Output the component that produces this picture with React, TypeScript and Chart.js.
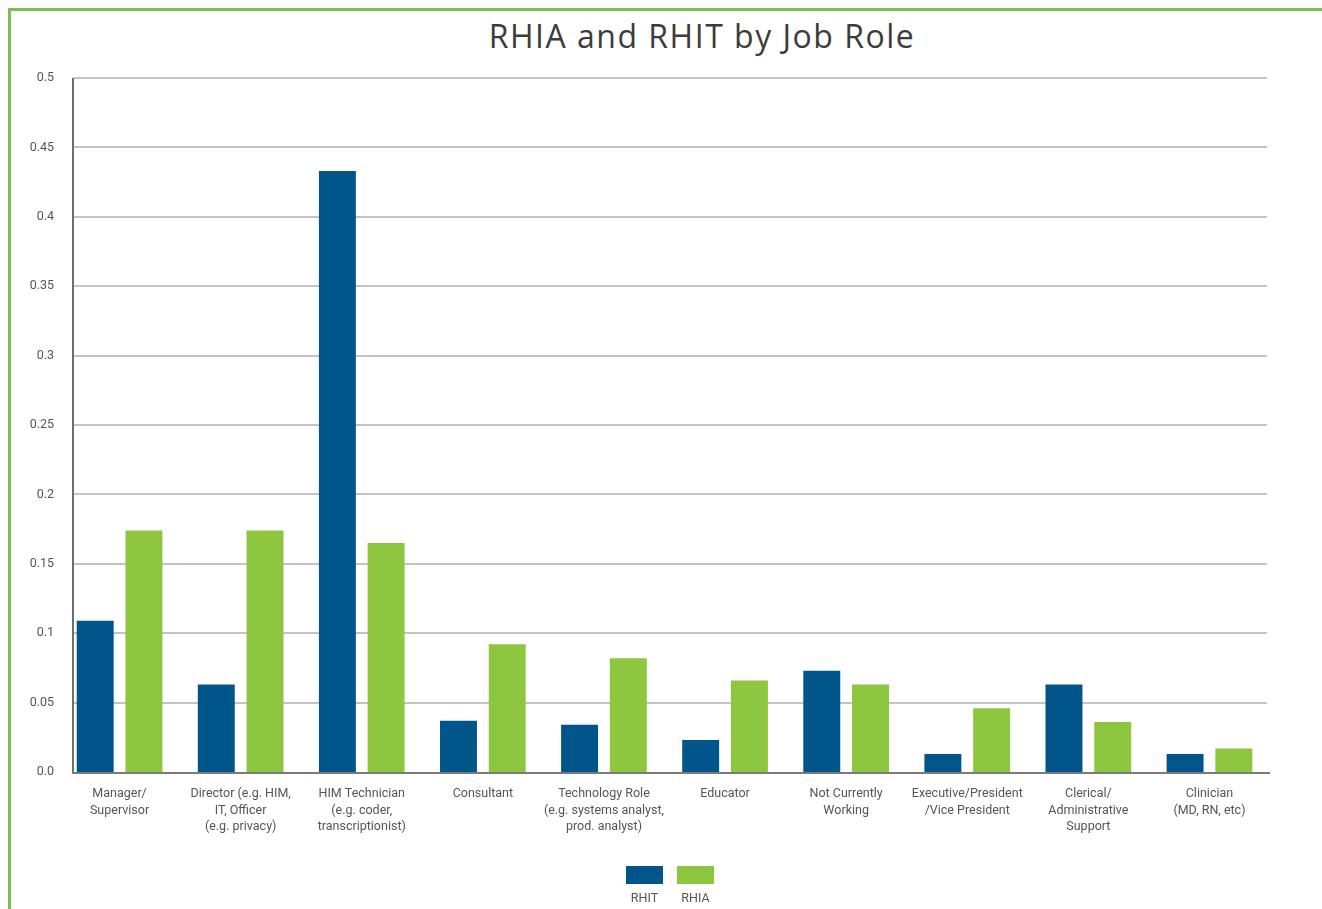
import React, { useEffect, useRef } from "react";
import { Chart, registerables } from "chart.js";

Chart.register(...registerables);

const categories: string[][] = [
  ["Manager/", "Supervisor"],
  ["Director (e.g. HIM,", "IT, Officer", "(e.g. privacy)"],
  ["HIM Technician", "(e.g. coder,", "transcriptionist)"],
  ["Consultant"],
  ["Technology Role", "(e.g. systems analyst,", "prod. analyst)"],
  ["Educator"],
  ["Not Currently", "Working"],
  ["Executive/President", "/Vice President"],
  ["Clerical/", "Administrative", "Support"],
  ["Clinician", "(MD, RN, etc)"],
];

const rhitValues: number[] = [0.109, 0.063, 0.433, 0.037, 0.034, 0.023, 0.073, 0.013, 0.063, 0.013];
const rhiaValues: number[] = [0.174, 0.174, 0.165, 0.092, 0.082, 0.066, 0.063, 0.046, 0.036, 0.017];

const yTickValues: number[] = [0, 0.05, 0.1, 0.15, 0.2, 0.25, 0.3, 0.35, 0.4, 0.45, 0.5];
const yTickLabels: string[] = ["0.0", "0.05", "0.1", "0.15", "0.2", "0.25", "0.3", "0.35", "0.4", "0.45", "0.5"];

const seriesNames = ["RHIT", "RHIA"];
const seriesColors = ["#00558a", "#8dc63f"];

const TITLE = "RHIA and RHIT by Job Role";
const FONT = "Roboto, 'Open Sans', sans-serif";

// layout constants (styling)
const GRID_LEFT = 73;
const GRID_RIGHT = 1267;

export default function App() {
  const canvasRef = useRef<HTMLCanvasElement | null>(null);

  useEffect(() => {
    const canvas = canvasRef.current;
    if (!canvas) return;

    const gridPlugin = {
      id: "customGrid",
      beforeDatasetsDraw(chart: any) {
        const ctx = chart.ctx;
        const y = chart.scales.y;
        const area = chart.chartArea;
        ctx.save();
        ctx.strokeStyle = "#c4c4c4";
        ctx.lineWidth = 2;
        yTickValues.forEach((v) => {
          if (v === 0) return;
          const py = Math.round(y.getPixelForValue(v));
          ctx.beginPath();
          ctx.moveTo(GRID_LEFT, py);
          ctx.lineTo(GRID_RIGHT, py);
          ctx.stroke();
        });
        ctx.strokeStyle = "#6e6e6e";
        ctx.beginPath();
        ctx.moveTo(GRID_LEFT, area.top);
        ctx.lineTo(GRID_LEFT, area.bottom);
        ctx.stroke();
        ctx.restore();
      },
      afterDatasetsDraw(chart: any) {
        const ctx = chart.ctx;
        const y = chart.scales.y;
        const py = Math.round(y.getPixelForValue(0)) + 1;
        ctx.save();
        ctx.strokeStyle = "#7a7a7a";
        ctx.lineWidth = 2;
        ctx.beginPath();
        ctx.moveTo(GRID_LEFT - 1, py);
        ctx.lineTo(GRID_RIGHT + 3, py);
        ctx.stroke();
        ctx.restore();
      },
    };

    const chart = new Chart(canvas, {
      type: "bar",
      data: {
        labels: categories,
        datasets: [
          {
            label: seriesNames[0],
            data: rhitValues,
            backgroundColor: seriesColors[0],
            barPercentage: 0.758,
            categoryPercentage: 0.805,
          },
          {
            label: seriesNames[1],
            data: rhiaValues,
            backgroundColor: seriesColors[1],
            barPercentage: 0.758,
            categoryPercentage: 0.805,
          },
        ],
      },
      options: {
        responsive: false,
        animation: false,
        layout: { padding: { top: 78, left: 0, right: 52, bottom: 0 } },
        plugins: {
          legend: { display: false },
          title: { display: false },
          tooltip: { enabled: false },
        },
        scales: {
          x: {
            grid: { display: false, drawTicks: false },
            border: { display: false },
            ticks: {
              autoSkip: false,
              maxRotation: 0,
              minRotation: 0,
              padding: 14,
              color: "#555555",
              font: { family: FONT, size: 12.5, lineHeight: 1.32 },
            },
            afterFit(scale: any) {
              scale.height = 137;
            },
          },
          y: {
            min: 0,
            max: 0.5,
            grid: { display: false, drawTicks: false },
            border: { display: false },
            afterBuildTicks(scale: any) {
              scale.ticks = yTickValues.map((v) => ({ value: v }));
            },
            ticks: {
              crossAlign: "near",
              padding: 5,
              color: "#555555",
              font: { family: FONT, size: 12.5 },
              callback: (_v: any, i: number) => yTickLabels[i],
            },
            afterFit(scale: any) {
              scale.width = 59;
            },
          },
        },
      },
      plugins: [gridPlugin],
    } as any);

    return () => chart.destroy();
  }, []);

  return (
    <div style={{ position: "absolute", left: 0, top: 0, width: 1322, height: 909, background: "#ffffff", overflow: "hidden" }}>
      <div
        style={{
          position: "absolute",
          left: 8,
          top: 8,
          width: 1330,
          height: 920,
          borderLeft: "3px solid #7cc04e",
          borderTop: "3px solid #7cc04e",
        }}
      />
      <div
        style={{
          position: "absolute",
          left: 0,
          top: 13,
          width: 1322,
          paddingLeft: 82,
          boxSizing: "border-box",
          textAlign: "center",
          fontFamily: "'Open Sans', sans-serif",
          fontSize: 32,
          letterSpacing: "1.5px",
          color: "#3c3c3c",
          lineHeight: "46px",
        }}
      >
        {TITLE}
      </div>
      <canvas ref={canvasRef} width={1322} height={909} style={{ position: "absolute", left: 0, top: 0 }} />
      {seriesNames.map((name, i) => (
        <div key={name} style={{ position: "absolute", left: 626 + i * 51, top: 866, width: 37 }}>
          <div style={{ width: 37, height: 18, background: seriesColors[i] }} />
          <div
            style={{
              textAlign: "center",
              fontFamily: FONT,
              fontSize: 12.5,
              color: "#555555",
              marginTop: 6,
              width: 37,
            }}
          >
            {name}
          </div>
        </div>
      ))}
    </div>
  );
}
